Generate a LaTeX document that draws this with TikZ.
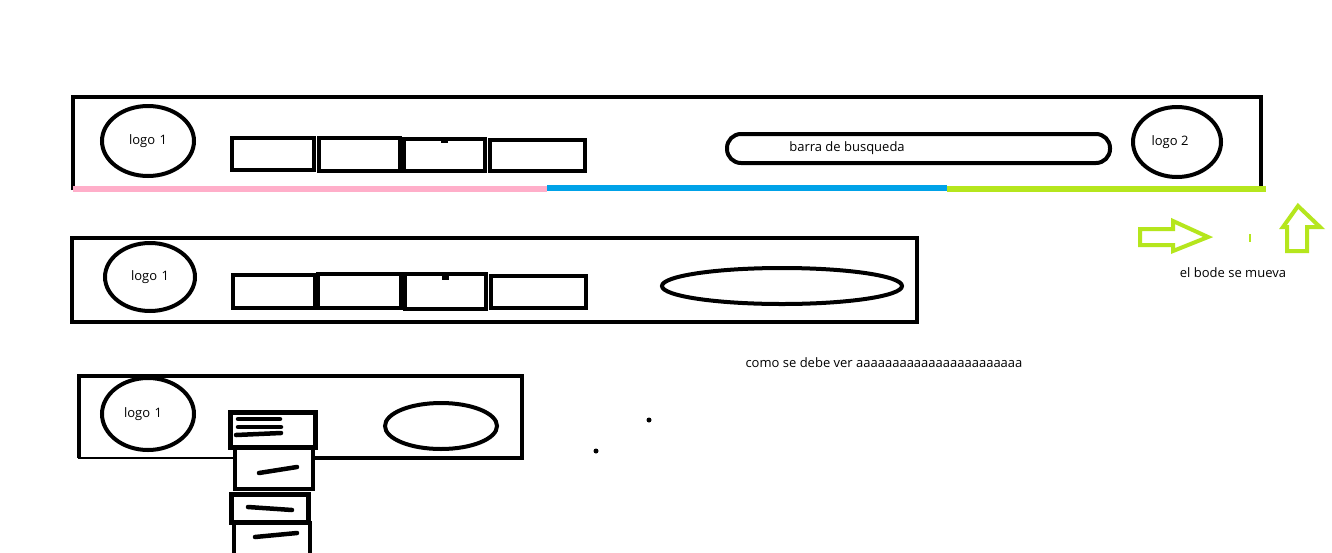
\documentclass[tikz,border=0pt]{standalone}
\usepackage{fontspec}
\setmainfont{Open Sans}
\usepackage{tikz}
\usetikzlibrary{shapes.geometric,positioning}

\definecolor{paintpink}{RGB}{255,174,201}
\definecolor{paintblue}{RGB}{0,162,232}
\definecolor{paintgreen}{RGB}{181,230,29}

\begin{document}
\begin{tikzpicture}[x=1pt, y=-1pt, line width=4pt,
    logo/.style={draw, ellipse, inner sep=0pt, font=\fontsize{13}{15}\selectfont},
    menubox/.style={draw, rectangle, inner sep=0pt},
    label/.style={font=\fontsize{13}{15}\selectfont, inner sep=0pt},
    trazo/.style={line width=4.5pt, line cap=round},
    flecha/.style={draw=paintgreen, line width=4pt, line join=miter}]

    \useasboundingbox[fill=white] (0,0) rectangle (1332,552);

    % barra completa
    \draw (73,190) |- (1261,97) -- (1261,189);
    \node[logo, minimum width=92pt, minimum height=70pt] (logoA) at (148,141) {logo\,\,1};
    \node[menubox, minimum width=82pt, minimum height=32pt] (menuA1) at (273,154) {};
    \node[menubox, minimum width=81pt, minimum height=33pt] (menuA2) at (359.5,154.5) {};
    \node[menubox, minimum width=81pt, minimum height=32pt] (menuA3) at (444.5,155) {};
    \node[menubox, minimum width=95pt, minimum height=31pt] (menuA4) at (537.5,155.5) {};
    \draw (441,141) -- (448,141);
    \draw[rounded corners=14pt] (727,134) rectangle (1110,163);
    \node[label] (busca) at (847,148) {barra de busqueda};
    \node[logo, minimum width=88pt, minimum height=70pt] (logoB) at (1177,142) {};
    \node[label] (logoBtxt) at (1170,142) {logo 2};

    % borde de colores
    \draw[paintpink, line width=6pt] (73,189) -- (547,189);
    \draw[paintblue, line width=6pt] (547,188) -- (947,188);
    \draw[paintgreen, line width=6pt] (947,189) -- (1266,189);

    % flechas
    \draw[flecha] (1140,229) -- (1173,229) -- (1173,221) -- (1208,237)
        -- (1173,251) -- (1173,245) -- (1140,245) -- cycle;
    \draw[flecha] (1287,251) -- (1287,227) -- (1283,227) -- (1298,206)
        -- (1320,227) -- (1307,227) -- (1307,251) -- cycle;
    \draw[paintgreen, line width=2pt] (1250,234) -- (1250,242);
    \node[label] (mueve) at (1233,273) {el bode se mueva};

    % barra mediana
    \draw (72,238) rectangle (917,322);
    \node[logo, minimum width=90pt, minimum height=68pt] (logoC) at (150,277) {logo\,\,1};
    \node[menubox, minimum width=82pt, minimum height=33pt] (menuC1) at (274,291.5) {};
    \node[menubox, minimum width=83pt, minimum height=34pt] (menuC2) at (359.5,291) {};
    \node[menubox, minimum width=81pt, minimum height=35pt] (menuC3) at (445.5,291.5) {};
    \node[menubox, minimum width=95pt, minimum height=32pt] (menuC4) at (538.5,292) {};
    \draw (442,278) -- (449,278);
    \node[draw, ellipse, minimum width=240pt, minimum height=36pt] (buscaC) at (782,286) {};

    \node[label] (nota) at (884,363) {como se debe ver aaaaaaaaaaaaaaaaaaaaaaa};

    % barra chica
    \draw (79,458) |- (522,376) -- (522,458) -- (313,458);
    \draw[line width=2pt] (79,378) -- (79,458) -- (235,458);
    \node[logo, minimum width=92pt, minimum height=72pt] (logoD) at (148,414) {};
    \node[label] (logoDtxt) at (143,414) {logo\,\,1};
    \node[draw, ellipse, minimum width=112pt, minimum height=46pt] (buscaD) at (441,426) {};

    % menu desplegado
    \node[menubox, line width=5pt, minimum width=85pt, minimum height=35pt] (drop1) at (272.5,429.5) {};
    \draw[trazo] (238,419) -- (280,419);
    \draw[trazo] (238,427) -- (281,427);
    \draw[trazo] (236,435) -- (281,433);
    \node[menubox, minimum width=78pt, minimum height=41pt] (drop2) at (274,468) {};
    \draw[trazo] (259,473) -- (297,467);
    \node[menubox, line width=5pt, minimum width=77pt, minimum height=28pt] (drop3) at (269.5,508) {};
    \draw[trazo] (248,507) -- (292,510);
    \draw (234,560) |- (310,523) -- (310,560);
    \draw[trazo] (255,537) -- (297,533);

    % puntos
    \fill (649,420) circle (2.5pt);
    \fill (596,451) circle (2.5pt);

\end{tikzpicture}
\end{document}
